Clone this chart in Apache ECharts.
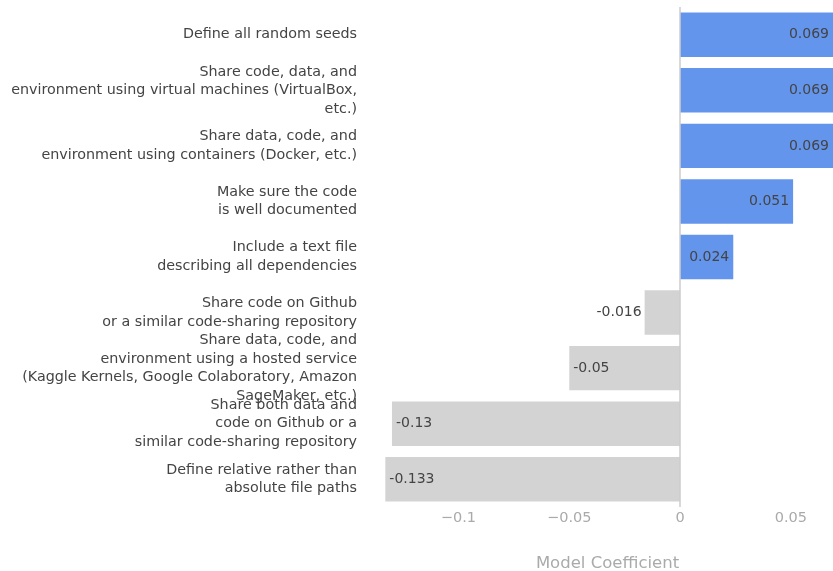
<!DOCTYPE html>
<html>
<head>
<meta charset="utf-8">
<script src="https://cdn.jsdelivr.net/npm/echarts@6/dist/echarts.min.js"></script>
<style>html,body{margin:0;padding:0;background:#fff;}#c{width:833px;height:571px;}</style>
</head>
<body>
<div id="c"></div>
<script>
const categories = [
  "Define all random seeds",
  "Share code, data, and\nenvironment using virtual machines (VirtualBox,\netc.)",
  "Share data, code, and\nenvironment using containers (Docker, etc.)",
  "Make sure the code\nis well documented",
  "Include a text file\ndescribing all dependencies",
  "Share code on Github\nor a similar code-sharing repository",
  "Share data, code, and\nenvironment using a hosted service\n(Kaggle Kernels, Google Colaboratory, Amazon\nSageMaker, etc.)",
  "Share both data and\ncode on Github or a\nsimilar code-sharing repository",
  "Define relative rather than\nabsolute file paths"
];
const coefficients = [0.069, 0.069, 0.069, 0.051, 0.024, -0.016, -0.05, -0.13, -0.133];
const tickValues = [-0.1, -0.05, 0, 0.05];
const axisTitle = "Model Coefficient";

const FONT = "DejaVu Sans";
const data = coefficients.map(v => {
  const pos = v >= 0 ? 'insideRight' : (Math.abs(v) < 0.03 ? 'left' : 'insideLeft');
  return {
    value: v,
    itemStyle: { color: v >= 0 ? '#6495ED' : '#D3D3D3' },
    label: { position: pos, distance: pos === 'left' ? 3 : 4 }
  };
});

const chart = echarts.init(document.getElementById('c'));
chart.setOption({
  animation: false,
  grid: { left: 382, right: 0, top: 7, bottom: 64, containLabel: false, outerBoundsMode: 'none' },
  xAxis: {
    type: 'value',
    min: -0.1345,
    max: 0.069,
    splitNumber: 5,
    splitLine: { show: false },
    axisLine: { show: false },
    axisTick: { show: false },
    axisLabel: {
      color: '#aaa', fontSize: 14.5, fontFamily: FONT, margin: 4,
      showMinLabel: false, showMaxLabel: false,
      formatter: function (v) {
        const m = tickValues.find(t => Math.abs(t - v) < 1e-9);
        if (m === undefined) return '';
        return String(m).replace('-', '\u2212');
      }
    },
    name: axisTitle,
    nameLocation: 'middle',
    nameGap: 48,
    nameTextStyle: { color: '#aaa', fontSize: 16.5, fontFamily: FONT }
  },
  yAxis: {
    type: 'category',
    data: categories,
    inverse: true,
    axisLine: { show: false },
    axisTick: { show: false },
    axisLabel: {
      color: '#444', fontSize: 14.3, fontFamily: FONT, margin: 25,
      lineHeight: 18.5, align: 'right', interval: 0
    }
  },
  series: [{
    type: 'bar',
    data: data,
    barCategoryGap: '20%',
    label: {
      show: true, color: '#444', fontSize: 14, fontFamily: FONT,
      formatter: p => String(p.value)
    },
    markLine: {
      silent: true,
      symbol: 'none',
      label: { show: false },
      lineStyle: { color: '#cccccc', width: 1.5, type: 'solid' },
      data: [{ xAxis: 0 }]
    }
  }]
});
</script>
</body>
</html>
